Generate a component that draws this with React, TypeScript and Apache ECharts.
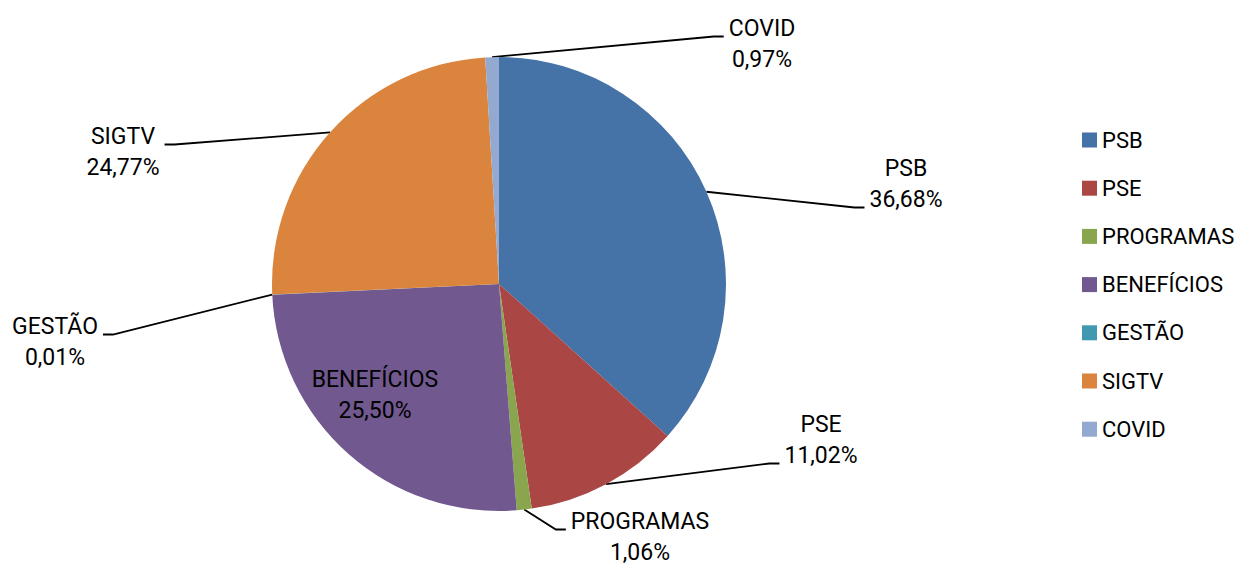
import React, { useEffect, useRef } from "react";
import * as echarts from "echarts";

const CATEGORIES = ["PSB", "PSE", "PROGRAMAS", "BENEFÍCIOS", "GESTÃO", "SIGTV", "COVID"];
const SHARES = [36.68, 11.02, 1.06, 25.5, 0.01, 24.77, 0.97];
const COLORS = ["#4572A7", "#AA4643", "#89A54E", "#71588F", "#4198AF", "#DB843D", "#93A9CF"];

// label placement (layout only): block centre, which side the leader line meets, which text line
const LABEL_LAYOUT = [
  { x: 906, y: 184, side: "left", line: 1 },
  { x: 821, y: 440, side: "left", line: 1 },
  { x: 640, y: 537, side: "left", line: 0 },
  { x: 375, y: 395, side: "none", line: 0 },
  { x: 55, y: 342, side: "right", line: 0 },
  { x: 123, y: 152, side: "right", line: 0 },
  { x: 762, y: 44, side: "left", line: 0 },
];

const CX = 499;
const CY = 284;
const R = 227;
const LH = 31;
const FONT = "Roboto";

function fmt(v: number) {
  return v.toFixed(2).replace(".", ",") + "%";
}

export default function App() {
  const ref = useRef<HTMLDivElement>(null);

  useEffect(() => {
    if (!ref.current) return;
    const chart = echarts.init(ref.current, undefined, { renderer: "svg" });
    const total = SHARES.reduce((a, b) => a + b, 0);
    const midAngles: number[] = [];
    let acc = 0;
    SHARES.forEach((v) => {
      const mid = acc + v / 2;
      midAngles.push(Math.PI / 2 - (mid / total) * 2 * Math.PI);
      acc += v;
    });

    chart.setOption({
      animation: false,
      backgroundColor: "#ffffff",
      color: COLORS,
      legend: {
        orient: "vertical",
        left: 1082,
        top: 128,
        padding: 0,
        icon: "rect",
        itemWidth: 15,
        itemHeight: 15,
        itemGap: 24.2,
        textStyle: { fontFamily: FONT, fontSize: 22, color: "#000", lineHeight: 24 },
        data: CATEGORIES,
      },
      series: [
        {
          type: "pie",
          center: [CX, CY],
          radius: R,
          startAngle: 90,
          clockwise: true,
          avoidLabelOverlap: false,
          itemStyle: { borderWidth: 0 },
          label: {
            show: true,
            position: "outside",
            fontFamily: FONT,
            fontSize: 23,
            lineHeight: LH,
            color: "#000",
            align: "center",
            formatter: (p: any) => `${p.name}\n${fmt(p.value)}`,
          },
          labelLine: {
            show: true,
            length: 20,
            length2: 10,
            lineStyle: { color: "#000", width: 1.8 },
          },
          labelLayout: (params: any) => {
            const cfg = LABEL_LAYOUT[params.dataIndex];
            const w = params.labelRect.width;
            const out: any = {
              x: cfg.x,
              y: cfg.y,
              align: "center",
              verticalAlign: "middle",
            };
            if (cfg.side !== "none") {
              const a = midAngles[params.dataIndex];
              const start = [CX + R * Math.cos(a), CY - R * Math.sin(a)];
              const ly = cfg.y + (cfg.line === 0 ? -LH / 2 : LH / 2) + 8;
              const dir = cfg.side === "left" ? -1 : 1;
              const ex = cfg.x + dir * (w / 2 + 5);
              const elx = ex + dir * 10;
              out.labelLinePoints = [start, [elx, ly], [ex, ly]];
            }
            return out;
          },
          data: CATEGORIES.map((name, i) =>
            i === 3
              ? { name, value: SHARES[i], label: { position: "inside" }, labelLine: { show: false } }
              : { name, value: SHARES[i] }
          ),
        },
      ],
    });
    return () => chart.dispose();
  }, []);

  return (
    <div
      ref={ref}
      style={{ position: "fixed", left: 0, top: 0, width: 1249, height: 565 }}
    />
  );
}
